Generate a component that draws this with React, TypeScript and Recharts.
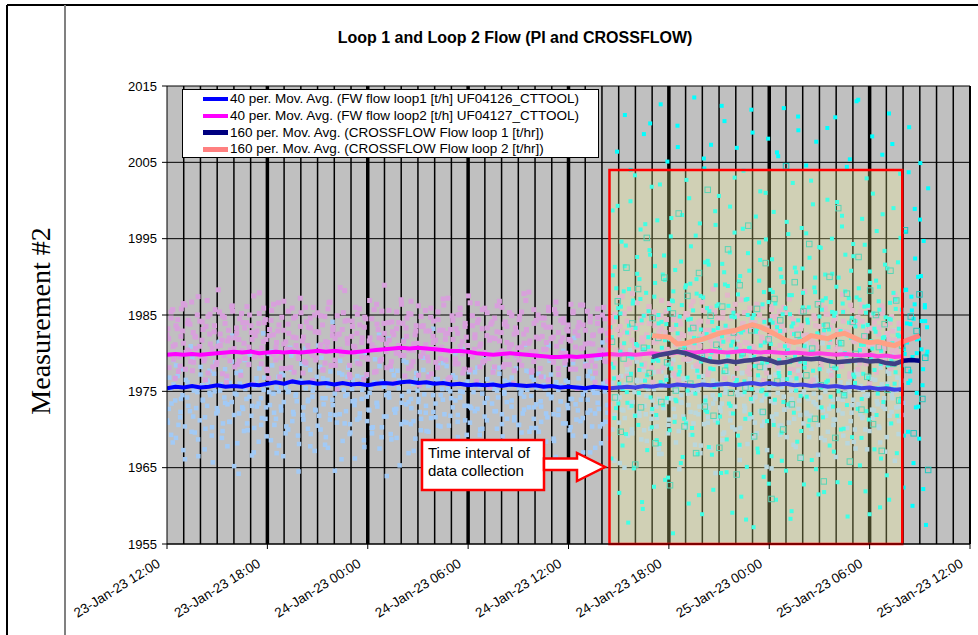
import React from 'react';
import { ComposedChart, Scatter, Line, XAxis, YAxis, CartesianGrid, ReferenceLine, ReferenceArea, Legend } from 'recharts';

const FONT = '"Liberation Sans", Arial, sans-serif';

// x values are hours after 23-Jan-23 12:00
const xTicks = [0, 6, 12, 18, 24, 30, 36, 42, 48];
const xTickLabels = [
  '23-Jan-23 12:00', '23-Jan-23 18:00', '24-Jan-23 00:00', '24-Jan-23 06:00', '24-Jan-23 12:00',
  '24-Jan-23 18:00', '25-Jan-23 00:00', '25-Jan-23 06:00', '25-Jan-23 12:00',
];
const yTicks = [1955, 1965, 1975, 1985, 1995, 2005, 2015];
const gridHours = [
  1, 2, 3, 4, 5, 6, 7, 8, 9, 10, 11, 12, 13, 14, 15, 16, 17, 18, 19, 20, 21, 22, 23, 24,
  25, 26, 27, 28, 29, 30, 31, 32, 33, 34, 35, 36, 37, 38, 39, 40, 41, 42, 43, 44, 45, 46, 47, 48,
];

// time interval of data collection (red box)
const collectionStart = 26.45;
const collectionEnd = 43.95;
const collectionTop = 2004;

// raw PI samples, loop 1 (hours 0 .. 44)
const loop1Raw = [
  1971.2, 1976.8, 1973.4, 1979.1, 1968.9, 1975.6, 1972.3, 1977.9, 1970.4, 1974.2, 1980.3, 1969.7, 1975.1, 1972.8, 1966.5,
  1978.2, 1973.9, 1971.6, 1976.4, 1974.8, 1969.2, 1977.3, 1972.1, 1981.4, 1975.9, 1970.8, 1973.5, 1967.8, 1976.1, 1978.9,
  1971.9, 1974.6, 1964.2, 1977.6, 1972.7, 1975.3, 1969.9, 1979.8, 1973.1, 1970.2, 1976.7, 1968.4, 1974.1, 1982.6, 1971.4,
  1975.8, 1973.2, 1978.4, 1970.6, 1966.9, 1975.0, 1972.5, 1977.1, 1969.5, 1974.9, 1980.7, 1971.1, 1976.2, 1973.7, 1968.1,
  1978.6, 1972.9, 1975.4, 1970.1, 1977.8, 1974.3, 1967.2, 1976.9, 1971.8, 1979.4, 1973.3, 1969.0, 1975.7, 1972.0, 1984.1,
  1974.7, 1970.9, 1977.4, 1966.1, 1975.2, 1972.4, 1978.1, 1969.6, 1976.5, 1973.8, 1971.3, 1980.1, 1974.0, 1968.6, 1977.0,
  1972.6, 1975.5, 1970.3, 1979.2, 1973.0, 1967.5, 1976.3, 1971.7, 1974.5, 1981.9, 1969.4, 1975.9, 1972.2, 1977.7, 1965.3,
  1974.4, 1971.0, 1978.8, 1973.6, 1970.7, 1976.0, 1968.8, 1975.1, 1972.3, 1979.6, 1974.6, 1969.8, 1977.2, 1971.5, 1983.2,
  1973.4, 1976.6, 1967.9, 1975.3, 1972.0, 1978.3, 1970.5, 1974.1, 1966.7, 1976.8, 1971.9, 1975.0, 1980.5, 1973.1, 1969.3,
  1977.5, 1972.8, 1974.9, 1968.3, 1976.1, 1970.0, 1978.7, 1973.5, 1971.2, 1975.6, 1963.8, 1977.9, 1972.4, 1974.2, 1979.9,
  1969.1, 1976.4, 1971.4, 1975.8, 1973.0, 1967.4, 1978.0, 1970.6, 1974.7, 1972.1, 1981.1, 1975.2, 1969.7, 1976.9, 1972.9,
  1970.2, 1977.3, 1973.7, 1966.3, 1975.4, 1971.6, 1979.0, 1974.3, 1968.5, 1976.2, 1972.6, 1975.7, 1970.8, 1978.5, 1973.2,
  1969.9, 1974.0, 1982.0, 1971.3, 1976.7, 1973.9, 1967.0, 1975.1, 1972.2, 1977.6, 1970.4, 1974.8, 1979.3, 1972.7, 1968.2,
  1976.0, 1971.0, 1975.5, 1973.3, 1978.2, 1965.9, 1974.4, 1970.9, 1977.0, 1972.5, 1975.9, 1969.2, 1980.4, 1973.6, 1971.8,
  1976.3, 1974.6, 1968.7, 1977.8, 1972.0, 1975.3, 1970.1, 1973.8, 1979.7, 1971.5, 1966.8, 1975.6, 1972.9, 1978.4, 1969.5,
  1974.1, 1977.1, 1971.7, 1975.0, 1964.8, 1973.5, 1976.6, 1970.3, 1979.0, 1972.3, 1974.9, 1968.0, 1977.5, 1973.0, 1981.6,
  1970.7, 1975.7, 1972.8, 1967.6, 1976.4, 1974.0, 1971.2, 1978.6, 1973.4, 1969.6, 1975.2, 1982.9, 1972.1, 1976.9, 1970.0,
  1974.5, 1966.0, 1977.4, 1973.1, 1975.9, 1971.4, 1979.5, 1968.9, 1974.3, 1976.1, 1972.4, 1970.5, 1978.0, 1965.1, 1975.4,
  1973.7, 1971.1, 1977.2, 1974.8, 1969.3, 1976.5, 1972.6, 1980.8, 1970.9, 1975.1, 1973.2, 1967.7, 1977.7, 1971.9, 1974.6,
  1978.9, 1972.0, 1969.0, 1975.8, 1973.6, 1976.8, 1970.6, 1974.2, 1981.3, 1968.6, 1975.5, 1972.7, 1977.0, 1971.3, 1966.4,
  1974.0, 1976.2, 1973.9, 1979.3, 1970.2, 1975.0, 1972.2, 1968.4, 1977.6, 1973.3, 1975.7, 1971.6, 1983.7, 1974.4, 1969.8,
  1976.6, 1972.5, 1975.3, 1970.4, 1978.1, 1973.0, 1967.1, 1976.0, 1971.8, 1974.7, 1979.8, 1972.9, 1969.4, 1975.9, 1973.5,
];
const loop1RawB = [
  1972.7, 1969.3, 1975.9, 1978.4, 1970.6, 1974.0, 1967.3, 1976.5, 1973.1, 1980.9, 1971.7, 1975.3, 1968.7, 1977.2, 1973.8,
  1970.1, 1976.2, 1974.5, 1965.7, 1978.8, 1972.4, 1975.1, 1969.8, 1977.9, 1973.3, 1971.0, 1982.3, 1974.7, 1968.2, 1976.0,
  1972.9, 1979.1, 1970.8, 1974.3, 1966.6, 1975.7, 1973.0, 1978.0, 1971.5, 1976.8, 1969.1, 1974.9, 1980.2, 1972.2, 1975.5,
  1967.9, 1977.3, 1973.6, 1970.4, 1975.0, 1979.7, 1972.0, 1974.6, 1964.5, 1976.3, 1971.3, 1978.5, 1973.9, 1969.4, 1975.8,
  1972.5, 1981.0, 1970.0, 1976.7, 1974.1, 1967.6, 1977.6, 1973.2, 1971.9, 1975.4, 1979.0, 1968.5, 1974.4, 1976.9, 1970.7,
  1973.7, 1966.2, 1977.0, 1972.1, 1975.2, 1980.0, 1971.1, 1974.8, 1969.5, 1976.1, 1973.4, 1978.3, 1970.3, 1975.6, 1963.9,
  1974.2, 1977.8, 1972.6, 1968.9, 1976.4, 1973.5, 1981.7, 1970.9, 1975.0, 1972.8, 1967.2, 1977.4, 1974.0, 1971.4, 1979.4,
  1973.1, 1969.7, 1975.9, 1972.3, 1976.6, 1970.5, 1974.5, 1978.7, 1966.8, 1975.3, 1971.8, 1977.1, 1973.8, 1969.0, 1980.6,
  1974.9, 1971.2, 1976.3, 1973.0, 1968.1, 1977.5, 1972.7, 1975.7, 1970.1, 1979.2, 1974.1, 1965.4, 1976.0, 1972.4, 1975.1,
  1978.1, 1970.7, 1974.7, 1973.6, 1967.7, 1976.8, 1971.6, 1982.8, 1975.4, 1969.6, 1974.3, 1977.7, 1972.9, 1970.2, 1976.5,
  1973.3, 1979.6, 1971.0, 1975.8, 1968.4, 1974.6, 1977.2, 1972.0, 1966.4, 1975.2, 1973.7, 1980.3, 1970.8, 1976.2, 1974.0,
  1969.2, 1977.9, 1972.5, 1975.5, 1971.5, 1978.6, 1973.9, 1967.0, 1976.7, 1972.1, 1974.8, 1970.4, 1981.4, 1975.0, 1973.2,
  1968.8, 1976.1, 1971.9, 1979.8, 1974.2, 1972.6, 1965.0, 1977.3, 1973.5, 1970.0, 1975.6, 1978.9, 1972.3, 1976.4, 1969.9,
  1974.4, 1980.7, 1971.4, 1975.3, 1973.0, 1967.5, 1977.6, 1972.8, 1976.9, 1970.6, 1974.1, 1979.1, 1968.3, 1975.9, 1973.6,
  1971.7, 1976.6, 1974.7, 1969.3, 1978.2, 1972.2, 1975.1, 1966.9, 1977.0, 1973.4, 1970.9, 1982.1, 1974.5, 1971.2, 1976.0,
  1972.9, 1968.6, 1975.7, 1979.5, 1973.1, 1970.3, 1976.3, 1974.9, 1967.8, 1977.4, 1972.4, 1975.4, 1980.1, 1971.6, 1974.2,
  1969.5, 1976.8, 1973.8, 1971.0, 1978.4, 1974.6, 1964.9, 1975.8, 1972.0, 1977.8, 1970.5, 1974.3, 1979.9, 1973.0, 1976.5,
  1968.0, 1975.2, 1972.7, 1977.1, 1970.8, 1981.2, 1974.0, 1971.8, 1976.2, 1973.3, 1966.7, 1978.0, 1972.5, 1975.0, 1969.7,
  1977.5, 1973.9, 1971.3, 1975.6, 1980.4, 1972.1, 1974.8, 1968.2, 1976.7, 1973.2, 1970.0, 1978.8, 1975.3, 1971.5, 1974.4,
  1967.4, 1976.9, 1972.6, 1979.3, 1973.7, 1970.2, 1975.9, 1974.1, 1969.0, 1977.3, 1972.3, 1983.0, 1975.1, 1971.1, 1976.4,
];
const loop1RawC = [
  1970.9, 1975.4, 1968.3, 1973.8, 1977.0, 1971.6, 1974.5, 1966.1, 1976.2, 1972.4, 1979.3, 1969.6, 1974.9, 1971.2, 1975.8,
  1967.4, 1973.1, 1977.7, 1970.3, 1975.0, 1972.8, 1981.5, 1968.9, 1974.2, 1976.6, 1971.0, 1973.6, 1965.2, 1977.4, 1972.1,
  1975.7, 1969.8, 1974.0, 1978.6, 1971.8, 1967.0, 1976.0, 1973.4, 1970.6, 1975.2, 1972.9, 1979.9, 1968.6, 1974.7, 1971.4,
  1976.9, 1973.0, 1966.5, 1975.5, 1970.0, 1977.9, 1972.3, 1974.4, 1969.2, 1976.4, 1971.9, 1980.6, 1973.7, 1967.8, 1975.1,
  1972.6, 1970.5, 1978.2, 1974.1, 1968.0, 1976.5, 1971.3, 1973.9, 1964.6, 1975.9, 1972.0, 1977.2, 1970.8, 1974.6, 1969.4,
  1975.3, 1973.2, 1978.9, 1971.5, 1976.8, 1967.7, 1974.3, 1972.5, 1970.2, 1976.1, 1973.5, 1982.4, 1969.0, 1975.6, 1971.7,
  1974.8, 1968.7, 1977.1, 1972.7, 1975.4, 1970.7, 1979.0, 1973.3, 1966.9, 1974.0, 1971.1, 1976.7, 1973.6, 1969.9, 1977.8,
  1972.2, 1975.7, 1965.8, 1974.5, 1971.6, 1978.4, 1970.4, 1973.9, 1976.3, 1968.4, 1975.0, 1972.9, 1980.0, 1971.0, 1974.2,
  1967.2, 1976.0, 1973.1, 1970.9, 1975.8, 1972.4, 1978.1, 1969.3, 1974.7, 1971.7, 1976.6, 1963.5, 1973.4, 1975.3, 1970.1,
  1977.3, 1972.0, 1974.9, 1968.2, 1976.2, 1973.8, 1971.2, 1979.6, 1970.6, 1975.1, 1972.6, 1967.1, 1977.6, 1974.4, 1971.4,
  1975.5, 1969.7, 1973.0, 1976.9, 1972.1, 1981.0, 1974.1, 1968.8, 1975.9, 1971.9, 1973.7, 1966.0, 1976.4, 1972.8, 1970.3,
  1978.7, 1973.3, 1975.6, 1971.1, 1974.6, 1969.1, 1977.0, 1972.5, 1975.2, 1967.6, 1973.5, 1979.4, 1970.7, 1976.1, 1972.2,
  1974.3, 1970.0, 1976.8, 1973.9, 1965.6, 1975.4, 1971.5, 1978.0, 1972.9, 1969.5, 1974.9, 1976.5, 1971.8, 1980.3, 1973.1,
  1968.5, 1975.7, 1972.3, 1977.5, 1970.4, 1974.0, 1966.8, 1976.0, 1973.6, 1971.3, 1978.5, 1972.7, 1975.0, 1969.8, 1974.5,
  1976.7, 1971.0, 1973.2, 1979.2, 1970.8, 1975.3, 1972.0, 1967.9, 1976.3, 1974.2, 1971.6, 1977.9, 1973.4, 1964.3, 1975.8,
  1972.4, 1969.4, 1974.8, 1977.4, 1971.2, 1975.9, 1973.0, 1981.8, 1970.2, 1974.6, 1972.8, 1968.1, 1976.6, 1973.7, 1970.9,
  1975.1, 1979.7, 1972.1, 1974.3, 1967.3, 1976.9, 1971.7, 1973.5, 1978.3, 1970.5, 1975.6, 1972.6, 1969.0, 1977.1, 1974.0,
  1971.4, 1976.2, 1973.8, 1966.3, 1975.0, 1972.2, 1980.8, 1970.1, 1974.7, 1976.4, 1972.9, 1968.9, 1975.4, 1971.8, 1977.7,
  1973.1, 1970.6, 1975.7, 1972.5, 1978.8, 1969.2, 1974.4, 1976.0, 1971.1, 1973.9, 1967.5, 1977.2, 1972.0, 1975.2, 1970.0,
  1974.6, 1979.0, 1971.5, 1976.5, 1973.3, 1968.3, 1975.5, 1972.7, 1977.6, 1970.7, 1974.1, 1965.9, 1976.8, 1973.0, 1971.9,
];

// raw PI samples, loop 2 (hours 0 .. 44)
const loop2Raw = [
  1982.4, 1978.1, 1984.6, 1980.9, 1976.7, 1983.2, 1979.5, 1985.8, 1981.3, 1977.9, 1983.9, 1980.2, 1986.7, 1978.8, 1982.1,
  1975.6, 1984.2, 1981.7, 1979.0, 1983.5, 1977.4, 1985.1, 1980.6, 1982.8, 1978.5, 1988.3, 1981.0, 1984.9, 1979.7, 1976.2,
  1983.0, 1980.4, 1985.5, 1978.2, 1982.6, 1981.8, 1977.1, 1984.0, 1979.3, 1986.1, 1980.8, 1983.6, 1975.9, 1982.3, 1979.9,
  1985.2, 1978.6, 1981.5, 1984.4, 1977.7, 1983.1, 1980.0, 1986.4, 1979.1, 1982.9, 1976.9, 1984.7, 1981.2, 1978.0, 1983.8,
  1980.5, 1985.9, 1977.5, 1982.0, 1979.6, 1987.2, 1981.6, 1978.9, 1984.1, 1980.3, 1983.3, 1976.4, 1985.0, 1979.4, 1982.7,
  1981.1, 1977.8, 1984.8, 1980.7, 1986.6, 1978.4, 1983.4, 1981.9, 1975.3, 1982.5, 1979.8, 1985.3, 1980.1, 1984.3, 1977.2,
  1982.2, 1980.9, 1986.0, 1978.7, 1983.7, 1981.4, 1976.6, 1984.5, 1979.2, 1982.0, 1980.6, 1985.7, 1977.6, 1983.1, 1979.0,
  1981.8, 1988.9, 1980.2, 1984.0, 1978.3, 1982.8, 1976.1, 1985.4, 1981.0, 1979.7, 1983.9, 1977.0, 1984.6, 1980.4, 1986.8,
  1978.9, 1982.4, 1981.3, 1975.8, 1983.5, 1980.0, 1985.6, 1979.5, 1982.9, 1977.3, 1984.2, 1981.7, 1978.1, 1983.0, 1980.8,
  1986.3, 1979.1, 1982.6, 1976.8, 1984.9, 1980.3, 1983.2, 1978.6, 1985.1, 1981.5, 1977.9, 1982.1, 1987.5, 1979.8, 1983.6,
  1980.5, 1976.3, 1984.4, 1981.2, 1978.8, 1985.9, 1982.3, 1979.3, 1983.8, 1977.5, 1981.9, 1986.2, 1980.1, 1982.7, 1978.2,
  1984.1, 1979.6, 1985.3, 1981.1, 1976.0, 1983.3, 1980.7, 1984.8, 1978.4, 1982.5, 1986.9, 1979.9, 1981.6, 1977.7, 1983.9,
  1980.2, 1985.0, 1978.0, 1982.2, 1984.6, 1981.4, 1976.5, 1983.4, 1979.4, 1985.7, 1980.9, 1977.2, 1984.3, 1982.0, 1978.7,
  1983.1, 1981.8, 1986.4, 1979.2, 1982.8, 1975.4, 1984.0, 1980.6, 1983.7, 1978.3, 1985.5, 1981.3, 1979.0, 1982.4, 1977.4,
  1984.7, 1980.0, 1983.0, 1986.0, 1978.9, 1981.7, 1982.9, 1979.7, 1984.2, 1980.4, 1976.8, 1983.5, 1981.0, 1985.2, 1978.5,
  1982.6, 1979.5, 1987.8, 1980.8, 1983.2, 1977.8, 1984.5, 1981.5, 1978.6, 1982.1, 1985.8, 1980.3, 1976.2, 1983.6, 1979.1,
  1981.9, 1984.9, 1978.1, 1982.7, 1980.5, 1986.5, 1979.8, 1983.3, 1977.0, 1981.2, 1984.4, 1980.0, 1982.3, 1975.9, 1985.1,
  1979.3, 1983.8, 1981.6, 1978.4, 1984.0, 1980.9, 1986.7, 1982.5, 1979.6, 1977.6, 1983.0, 1981.1, 1985.4, 1978.8, 1982.0,
  1980.2, 1984.6, 1976.7, 1983.4, 1981.8, 1979.0, 1985.6, 1982.8, 1978.0, 1980.7, 1987.0, 1983.9, 1979.4, 1981.3, 1977.3,
  1984.3, 1980.4, 1982.9, 1978.7, 1985.0, 1981.5, 1976.4, 1983.1, 1979.9, 1982.2, 1986.1, 1980.1, 1984.8, 1978.2, 1981.0,
  1983.7, 1979.2, 1985.3, 1980.6, 1977.9, 1982.6, 1984.1, 1981.7, 1978.5, 1983.2, 1980.3, 1988.1, 1982.4, 1979.7, 1976.1,
  1981.4, 1984.5, 1980.8, 1983.5, 1978.9, 1982.1, 1985.9, 1979.5, 1981.9, 1977.1, 1984.2, 1980.5, 1983.0, 1981.2, 1978.3,
  1985.5, 1980.0, 1982.7, 1976.9, 1983.8, 1981.6, 1979.1, 1984.7, 1980.2, 1986.3, 1982.3, 1978.6, 1981.1, 1983.3, 1979.8,
  1984.0, 1977.5, 1982.5, 1980.7, 1985.2, 1979.3, 1983.6, 1981.8, 1978.0, 1982.9, 1986.8, 1980.4, 1983.9, 1979.6, 1981.5,
];
const loop2RawB = [
  1981.9, 1985.4, 1979.2, 1983.6, 1977.6, 1982.2, 1986.5, 1980.1, 1984.3, 1978.9, 1982.7, 1980.6, 1987.4, 1979.6, 1983.1,
  1976.5, 1984.8, 1981.2, 1978.2, 1985.7, 1980.9, 1982.5, 1977.3, 1983.9, 1981.6, 1979.0, 1986.2, 1982.0, 1978.5, 1984.5,
  1980.3, 1983.3, 1975.7, 1985.0, 1981.8, 1979.5, 1982.9, 1987.9, 1980.7, 1984.0, 1977.9, 1982.3, 1985.6, 1979.8, 1981.4,
  1983.7, 1978.0, 1986.8, 1980.5, 1982.6, 1976.3, 1984.6, 1981.0, 1979.3, 1985.3, 1982.1, 1978.7, 1983.4, 1980.0, 1986.0,
  1979.1, 1982.8, 1984.9, 1977.8, 1981.5, 1985.8, 1980.2, 1983.0, 1978.4, 1982.4, 1988.6, 1979.9, 1984.2, 1981.3, 1976.8,
  1983.5, 1980.8, 1985.1, 1978.6, 1982.0, 1984.7, 1979.4, 1986.9, 1981.1, 1977.5, 1983.8, 1980.4, 1985.5, 1982.6, 1978.1,
  1981.7, 1984.1, 1976.0, 1983.2, 1980.0, 1986.4, 1979.7, 1982.2, 1985.2, 1978.3, 1981.2, 1983.6, 1977.1, 1984.8, 1980.6,
  1982.9, 1979.0, 1985.9, 1981.4, 1978.8, 1984.4, 1980.3, 1987.1, 1982.5, 1976.6, 1983.1, 1981.8, 1979.2, 1985.0, 1980.9,
  1977.4, 1983.9, 1981.0, 1986.6, 1979.5, 1982.4, 1984.0, 1978.2, 1985.7, 1980.1, 1983.3, 1975.6, 1982.0, 1984.6, 1979.9,
  1981.6, 1986.0, 1978.5, 1983.5, 1980.7, 1984.9, 1977.7, 1982.7, 1979.1, 1985.4, 1981.3, 1983.0, 1988.0, 1980.2, 1978.9,
  1984.3, 1981.9, 1976.9, 1983.7, 1980.5, 1985.6, 1979.3, 1982.1, 1986.7, 1978.0, 1981.5, 1984.5, 1980.0, 1982.9, 1977.9,
  1985.3, 1980.8, 1983.4, 1979.6, 1986.3, 1981.2, 1978.4, 1984.1, 1982.3, 1976.2, 1983.9, 1980.4, 1985.0, 1979.0, 1982.6,
  1981.0, 1984.7, 1978.7, 1983.1, 1987.3, 1980.3, 1982.8, 1977.0, 1985.8, 1981.7, 1979.4, 1983.6, 1980.9, 1984.0, 1978.3,
  1982.4, 1986.1, 1979.8, 1981.4, 1984.8, 1977.6, 1983.2, 1980.1, 1985.5, 1982.0, 1978.6, 1984.4, 1981.1, 1976.4, 1983.8,
  1980.6, 1985.2, 1979.2, 1982.7, 1986.8, 1981.3, 1978.1, 1984.2, 1980.0, 1983.0, 1977.2, 1985.9, 1982.2, 1979.7, 1984.6,
  1981.8, 1978.8, 1983.3, 1987.6, 1980.4, 1982.5, 1976.7, 1984.9, 1981.0, 1979.1, 1985.3, 1982.9, 1978.2, 1983.5, 1980.7,
  1986.4, 1979.5, 1982.1, 1984.3, 1977.4, 1981.6, 1985.7, 1980.2, 1983.9, 1978.9, 1982.8, 1986.0, 1979.0, 1981.2, 1984.7,
  1977.8, 1983.1, 1980.5, 1985.4, 1982.3, 1978.5, 1984.0, 1981.9, 1976.5, 1983.6, 1980.0, 1986.6, 1982.0, 1979.3, 1985.1,
  1981.4, 1978.0, 1984.5, 1980.8, 1983.0, 1987.7, 1979.6, 1982.6, 1977.3, 1985.6, 1981.5, 1983.8, 1978.7, 1984.2, 1980.3,
  1982.9, 1976.0, 1985.0, 1981.1, 1979.4, 1983.4, 1986.2, 1980.6, 1982.4, 1978.4, 1984.8, 1981.7, 1979.8, 1983.2, 1985.5,
];
const loop2RawC = [
  1983.2, 1979.8, 1985.7, 1981.1, 1984.4, 1978.3, 1982.9, 1986.3, 1980.4, 1983.8, 1977.7, 1982.2, 1985.0, 1980.9, 1984.1,
  1979.3, 1986.9, 1982.5, 1980.0, 1983.6, 1978.8, 1985.4, 1981.7, 1984.7, 1977.0, 1982.0, 1986.1, 1980.6, 1983.3, 1979.0,
  1985.2, 1981.3, 1984.0, 1978.5, 1982.7, 1987.5, 1980.2, 1983.9, 1979.6, 1985.9, 1981.8, 1976.7, 1984.3, 1982.4, 1980.7,
  1986.6, 1979.4, 1983.0, 1981.5, 1985.5, 1978.1, 1982.1, 1984.8, 1980.3, 1983.5, 1977.4, 1986.0, 1981.0, 1984.6, 1979.7,
  1982.8, 1985.3, 1980.8, 1983.7, 1978.7, 1981.4, 1986.7, 1982.3, 1979.1, 1984.9, 1980.5, 1983.1, 1988.2, 1981.9, 1978.4,
  1984.2, 1980.1, 1982.6, 1985.8, 1979.5, 1983.4, 1977.2, 1981.6, 1984.5, 1980.7, 1986.4, 1982.0, 1979.2, 1983.9, 1981.2,
  1985.6, 1978.9, 1982.4, 1980.0, 1984.0, 1987.0, 1981.5, 1983.3, 1978.0, 1985.1, 1980.4, 1982.9, 1986.2, 1979.6, 1983.6,
  1981.1, 1976.9, 1984.7, 1982.2, 1980.6, 1985.4, 1979.3, 1983.0, 1981.8, 1987.2, 1980.2, 1984.3, 1978.6, 1982.6, 1985.9,
  1979.9, 1983.5, 1981.0, 1977.8, 1984.9, 1982.0, 1986.5, 1980.9, 1983.2, 1979.0, 1985.3, 1981.7, 1984.1, 1978.2, 1982.8,
  1986.8, 1980.3, 1983.8, 1981.4, 1978.5, 1985.0, 1982.5, 1979.7, 1984.4, 1980.8, 1987.8, 1983.1, 1981.3, 1977.5, 1985.7,
  1982.1, 1979.4, 1984.6, 1980.5, 1983.4, 1986.0, 1981.9, 1978.8, 1985.2, 1982.7, 1980.0, 1984.0, 1979.1, 1983.7, 1981.6,
  1985.5, 1977.9, 1982.3, 1986.3, 1980.7, 1983.0, 1979.5, 1984.8, 1981.2, 1978.3, 1985.8, 1982.9, 1980.4, 1984.5, 1976.3,
  1983.6, 1981.8, 1985.1, 1979.8, 1982.4, 1987.4, 1980.1, 1984.2, 1978.7, 1983.3, 1981.0, 1986.6, 1979.4, 1982.0, 1984.9,
  1980.6, 1983.9, 1978.1, 1985.4, 1981.5, 1982.8, 1986.9, 1979.9, 1984.4, 1980.3, 1983.1, 1977.3, 1985.0, 1981.9, 1982.5,
  1979.2, 1984.7, 1981.1, 1986.2, 1980.8, 1983.5, 1978.6, 1982.2, 1985.6, 1980.0, 1984.1, 1981.7, 1988.4, 1979.6, 1983.2,
  1981.3, 1985.3, 1978.9, 1982.6, 1984.6, 1980.2, 1986.4, 1982.1, 1979.0, 1983.8, 1981.4, 1977.6, 1985.9, 1980.9, 1984.0,
  1982.7, 1979.3, 1986.1, 1981.6, 1983.3, 1978.4, 1984.8, 1980.5, 1982.9, 1985.5, 1979.8, 1983.0, 1981.0, 1987.1, 1980.1,
  1984.3, 1981.8, 1977.1, 1983.6, 1980.4, 1985.7, 1982.0, 1979.5, 1984.9, 1981.2, 1986.7, 1978.2, 1982.4, 1985.1, 1980.7,
  1983.4, 1979.1, 1985.2, 1981.5, 1978.7, 1984.2, 1982.8, 1980.0, 1986.3, 1981.9, 1983.7, 1977.9, 1985.4, 1980.6, 1982.3,
  1986.0, 1980.9, 1983.2, 1979.3, 1984.6, 1981.1, 1985.8, 1978.6, 1982.6, 1984.0, 1980.3, 1987.6, 1981.7, 1983.9, 1979.7,
];

// raw CROSSFLOW samples, loop 1 (hours 26.5 .. 45.5)
const cross1Raw = [
  1983.4, 1966.2, 1998.7, 1978.1, 1991.3, 1972.8, 2006.4, 1985.9, 1961.7, 1980.2, 1994.6, 1975.3, 1988.1, 2011.2, 1969.4,
  1982.7, 1957.8, 1979.6, 1999.9, 1973.1, 1986.5, 1964.9, 2003.3, 1981.2, 1990.4, 1970.6, 1977.8, 1996.2, 1984.3, 1959.6,
  2008.7, 1976.4, 1987.9, 1967.3, 1982.1, 1993.5, 1974.2, 2001.8, 1979.0, 1962.5, 1989.2, 1971.9, 1997.4, 1985.0, 1968.1,
  2012.6, 1980.7, 1975.9, 1992.8, 1963.4, 1983.8, 2005.1, 1978.5, 1969.9, 1995.3, 1986.9, 1956.4, 1981.6, 1990.9, 1973.7,
  2009.8, 1977.2, 1984.8, 1965.6, 1998.1, 1980.0, 1971.4, 1988.6, 2002.7, 1976.8, 1960.3, 1983.1, 1994.0, 1970.2, 1985.6,
  2013.5, 1974.7, 1989.7, 1966.8, 1981.9, 1997.0, 1978.9, 1958.9, 1987.3, 2004.2, 1972.5, 1982.5, 1992.1, 1967.7, 1979.3,
  2007.3, 1984.1, 1962.1, 1975.6, 1996.8, 1986.2, 1970.9, 2000.6, 1980.4, 1964.3, 1991.7, 1977.5, 2010.4, 1983.6, 1968.7,
  1988.8, 1973.4, 1999.2, 1981.0, 1959.1, 1985.3, 1995.8, 1976.1, 2006.9, 1969.2, 1982.9, 1990.1, 1961.2, 1979.8, 2003.9,
  1974.9, 1987.0, 1965.1, 1993.1, 1980.6, 1972.0, 2011.9, 1984.6, 1957.2, 1978.3, 1997.9, 1983.2, 1967.0, 1989.5, 2001.2,
  1975.0, 1986.4, 1963.8, 1981.4, 1994.9, 1971.1, 2008.1, 1979.1, 1988.3, 1966.5, 1984.0, 1998.5, 1973.9, 1960.8, 1982.3,
  2005.8, 1977.0, 1991.0, 1969.6, 1985.1, 2012.1, 1980.9, 1964.6, 1976.6, 1995.6, 1987.6, 1958.3, 1983.5, 2002.3, 1972.2,
  1979.5, 1990.6, 1968.4, 2009.2, 1981.7, 1974.4, 1996.4, 1986.0, 1962.8, 1978.7, 2004.6, 1984.4, 1970.5, 1992.5, 1980.1,
  1966.0, 1999.5, 1975.7, 1988.0, 2007.7, 1982.6, 1961.5, 1977.9, 1993.8, 1985.7, 1971.6, 1983.0, 1990.3, 1976.2, 2000.1,
  1980.8, 1967.9, 1986.7, 1995.0, 1973.0, 1984.9, 2010.9, 1978.0, 1963.1, 1989.9, 1981.5, 1970.0, 1998.0, 1985.4, 1974.6,
  1992.9, 1979.7, 1958.6, 1987.2, 2005.4, 1982.0, 1969.0, 1994.3, 1976.9, 1984.2, 2013.0, 1972.7, 1988.5, 1965.3, 1981.1,
  1997.6, 1977.3, 1986.1, 1961.9, 2002.9, 1983.7, 1971.3, 1990.7, 1979.2, 2008.4, 1985.2, 1967.4, 1982.8, 1996.0, 1975.4,
  1988.7, 1959.8, 1980.3, 2006.0, 1973.6, 1993.4, 1984.7, 1964.0, 1978.4, 2011.4, 1986.6, 1970.8, 1981.3, 1999.0, 1976.0,
  1985.8, 1966.9, 1991.9, 1982.2, 2003.5, 1974.1, 1988.2, 1962.4, 1979.9, 1995.9, 1983.9, 1969.7, 2009.6, 1977.6, 1987.4,
  1960.0, 1984.5, 1998.9, 1972.9, 1981.8, 1990.0, 1968.8, 2004.9, 1980.5, 1975.8, 1994.7, 1986.3, 1957.5, 1983.4, 2001.6,
];
const cross1RawB = [
  1978.6, 1990.2, 1971.5, 1984.7, 1999.3, 1976.0, 1986.1, 1967.9, 1981.3, 1994.1, 1973.5, 1988.4, 2004.0, 1979.4, 1965.0,
  1983.3, 1992.6, 1974.8, 1987.1, 1960.5, 1980.5, 1996.9, 1977.1, 1985.5, 2010.1, 1970.3, 1982.4, 1991.4, 1968.6, 1979.0,
  2002.1, 1984.1, 1973.2, 1989.6, 1976.5, 1963.7, 1981.8, 1997.7, 1986.8, 1971.0, 1983.7, 2007.0, 1978.2, 1992.0, 1966.4,
  1980.9, 1988.9, 1975.1, 2000.3, 1984.5, 1969.3, 1982.0, 1995.4, 1977.7, 1961.4, 1987.5, 1980.1, 2005.5, 1973.8, 1985.9,
  1991.6, 1978.0, 1966.7, 1983.0, 1998.6, 1975.9, 1986.4, 1971.7, 2012.4, 1981.5, 1989.0, 1964.4, 1979.7, 1993.2, 1984.8,
  1972.1, 2003.0, 1980.6, 1987.7, 1968.0, 1982.7, 1996.3, 1976.3, 1958.2, 1985.0, 1990.8, 1974.0, 2008.9, 1979.5, 1983.6,
  1967.5, 1994.5, 1981.0, 1975.2, 1988.0, 2001.0, 1978.8, 1962.9, 1984.3, 1992.3, 1970.6, 1986.5, 2006.3, 1977.4, 1982.9,
  1965.9, 1989.3, 1980.0, 1997.2, 1973.3, 1985.1, 1959.3, 1983.9, 1991.2, 1976.7, 2011.0, 1981.9, 1969.8, 1987.9, 1978.1,
  1995.7, 1984.0, 1971.2, 2002.6, 1980.2, 1988.6, 1964.8, 1982.4, 1993.9, 1975.5, 1986.9, 1961.8, 1979.1, 2009.5, 1983.1,
  1974.3, 1990.4, 1967.1, 1985.3, 1999.8, 1977.0, 1981.2, 1996.6, 1970.1, 1988.1, 2004.4, 1978.9, 1963.0, 1984.6, 1992.7,
  1976.1, 1987.3, 2013.2, 1980.4, 1968.9, 1983.5, 1994.2, 1972.4, 1986.2, 1958.9, 1981.6, 2000.9, 1977.8, 1989.5, 1974.7,
  1985.7, 1966.2, 1998.2, 1982.1, 1979.6, 1991.1, 1960.8, 1984.4, 2007.4, 1975.3, 1987.0, 1971.8, 1983.2, 1995.1, 1978.4,
  1969.2, 1988.3, 1981.4, 2003.7, 1976.4, 1985.6, 1965.6, 1992.4, 1980.0, 1973.0, 1997.5, 1984.2, 1962.2, 1986.0, 1979.8,
];
const cross1RawC = [
  1982.1, 1976.7, 1988.5, 1973.4, 1985.2, 1979.9, 1991.4, 1974.9, 1983.6, 1977.3, 1986.9, 1971.8, 1981.0, 1989.7, 1978.5,
  1984.9, 1975.6, 1980.8, 1992.9, 1972.7, 1987.4, 1979.2, 1983.9, 1976.2, 1990.3, 1981.7, 1974.1, 1985.8, 1978.0, 1988.1,
  1973.9, 1982.6, 1977.6, 1986.3, 1980.3, 1970.8, 1984.4, 1989.1, 1975.8, 1981.3, 1987.8, 1976.9, 1983.1, 1979.4, 1991.9,
  1972.3, 1985.5, 1980.1, 1977.9, 1988.9, 1983.3, 1974.5, 1982.2, 1990.6, 1978.3, 1986.2, 1973.1, 1981.5, 1984.7, 1976.5,
  1989.4, 1979.6, 1983.0, 1971.4, 1987.1, 1980.7, 1975.3, 1985.0, 1982.8, 1977.1, 1992.2, 1978.7, 1984.1, 1974.6, 1986.7,
  1981.2, 1988.0, 1976.0, 1983.4, 1979.1, 1990.0, 1973.6, 1985.9, 1980.4, 1977.4, 1987.6, 1982.5, 1975.1, 1984.3, 1978.9,
  1991.1, 1980.9, 1974.3, 1986.0, 1982.3, 1977.7, 1989.9, 1979.3, 1984.8, 1972.9, 1983.7, 1987.2, 1976.4, 1981.8, 1985.4,
  1978.1, 1988.7, 1975.0, 1982.9, 1986.5, 1980.0, 1973.2, 1984.0, 1990.8, 1977.2, 1983.5, 1979.7, 1987.0, 1974.0, 1981.1,
  1985.3, 1976.8, 1989.2, 1980.6, 1983.2, 1971.9, 1986.8, 1978.6, 1982.0, 1991.6, 1975.7, 1984.5, 1979.0, 1987.9, 1977.5,
  1982.4, 1973.7, 1985.7, 1980.5, 1988.3, 1976.1, 1983.8, 1979.5, 1986.4, 1974.8, 1981.9, 1990.1, 1977.9, 1984.2, 1980.2,
];

// raw CROSSFLOW samples, loop 2 (hours 26.6 .. 45.5)
const cross2Raw = [
  1981.5, 1974.2, 1986.8, 1969.7, 1979.3, 1991.2, 1976.6, 1983.9, 1965.4, 1988.4, 1972.9, 1980.7, 1995.1, 1977.4, 1984.6,
  1968.2, 1982.0, 1973.6, 1989.9, 1978.8, 1962.7, 1985.2, 1975.1, 1998.3, 1980.3, 1970.4, 1987.5, 1976.0, 1983.3, 1966.9,
  1990.5, 1979.6, 1973.0, 2001.4, 1984.9, 1971.8, 1981.1, 1967.6, 1986.1, 1977.7, 1993.6, 1974.8, 1982.7, 1964.1, 1988.9,
  1980.0, 1975.5, 1996.7, 1983.0, 1969.1, 1985.8, 1978.2, 1972.3, 1991.8, 1981.8, 1960.9, 1987.1, 1976.3, 1984.3, 1970.0,
  2004.5, 1979.0, 1973.3, 1989.3, 1982.4, 1966.3, 1985.5, 1977.1, 1994.3, 1980.6, 1971.4, 1986.4, 1975.8, 1963.2, 1983.6,
  1990.0, 1978.5, 1968.9, 1999.0, 1981.3, 1974.5, 1987.8, 1965.8, 1984.1, 1979.9, 1992.6, 1972.6, 1982.2, 1976.9, 1988.2,
  1970.7, 1985.0, 1980.8, 1967.2, 1983.8, 1975.2, 1990.8, 1978.6, 1986.9, 1973.8, 1981.0, 1996.1, 1977.8, 1984.8, 1969.5,
  1982.9, 1987.7, 1974.0, 1979.4, 1964.7,
];

// moving averages, one value every half hour
const loop1Avg = [
  1975.4, 1975.6, 1975.5, 1975.7, 1975.5, 1975.6, 1975.8, 1975.6, 1975.7, 1975.6, 1975.9, 1975.8, 1976.0, 1976.2, 1976.0,
  1976.3, 1976.1, 1976.2, 1976.0, 1976.1, 1975.9, 1976.1, 1975.9, 1976.0, 1975.8, 1976.0, 1976.1, 1976.0, 1976.2, 1976.3,
  1976.1, 1976.2, 1976.0, 1976.1, 1975.9, 1976.0, 1975.8, 1975.9, 1975.8, 1975.9, 1975.7, 1975.9, 1975.8, 1975.7, 1975.8,
  1975.6, 1975.7, 1975.5, 1975.6, 1975.5, 1975.4, 1975.6, 1975.5, 1975.4, 1975.5, 1975.6, 1975.5, 1975.7, 1975.6, 1975.8,
  1975.7, 1975.9, 1975.8, 1975.7, 1975.9, 1975.8, 1975.9, 1976.0, 1975.8, 1976.0, 1976.1, 1975.9, 1976.1, 1975.9, 1976.0,
  1975.8, 1975.9, 1975.7, 1975.8, 1975.6, 1975.7, 1975.5, 1975.6, 1975.4, 1975.5, 1975.3, 1975.4, 1975.2, 1975.3,
];
const loop2Avg = [
  1979.8, 1979.9, 1979.8, 1979.9, 1979.8, 1979.9, 1980.0, 1980.1, 1980.2, 1980.1, 1980.2, 1980.0, 1980.1, 1980.2, 1980.1,
  1980.2, 1980.1, 1980.2, 1980.3, 1980.2, 1980.3, 1980.2, 1980.1, 1980.2, 1980.3, 1980.4, 1980.5, 1980.6, 1980.7, 1980.6,
  1980.7, 1980.6, 1980.5, 1980.4, 1980.3, 1980.3, 1980.2, 1980.0, 1979.9, 1979.8, 1979.9, 1980.0, 1979.9, 1979.8, 1979.7,
  1979.6, 1979.5, 1979.5, 1979.6, 1979.5, 1979.6, 1979.7, 1979.8, 1979.9, 1979.8, 1979.9, 1979.8, 1979.9, 1980.0, 1979.9,
  1980.0, 1980.1, 1980.2, 1980.1, 1980.2, 1980.3, 1980.2, 1980.1, 1980.2, 1980.3, 1980.2, 1980.1, 1980.2, 1980.1, 1980.0,
  1980.1, 1980.0, 1979.9, 1980.0, 1979.9, 1979.8, 1979.9, 1979.8, 1979.7, 1979.8, 1979.6, 1979.7, 1979.5, 1979.6,
];
const cross1Avg = [
  1979.5, 1979.8, 1980.0, 1980.2, 1980.0, 1979.6, 1979.2, 1978.9, 1978.8, 1979.0, 1978.8, 1979.0, 1979.1, 1979.3, 1979.1,
  1978.7, 1978.8, 1979.1, 1979.3, 1979.2, 1979.3, 1979.0, 1978.8, 1978.9, 1979.0, 1979.1, 1978.9, 1979.0, 1978.7, 1978.6,
  1979.0, 1979.1, 1979.0,
];
const cross2Avg = [
  1982.3, 1982.2, 1982.1, 1981.2, 1981.3, 1981.6, 1981.8, 1982.2, 1982.6, 1982.8, 1983.0, 1983.4, 1983.7, 1983.4, 1982.9,
  1982.3, 1981.7, 1981.4, 1981.6, 1982.3, 1982.1, 1981.9, 1982.4, 1982.6, 1982.1, 1981.6, 1981.4, 1981.5, 1981.2, 1981.0,
  1981.5, 1981.9, 1982.3,
];

// samples are evenly spaced in time between the first and the last hour
const toPoints = (first: number, last: number, values: number[]) =>
  values.map((v, i) => ({ h: first + (i * (last - first)) / (values.length - 1), v }));

const avgSeries = [
  { name: '40 per. Mov. Avg. (FW flow loop1 [t/h] UF04126_CTTOOL)', color: '#0000FF', width: 4, data: toPoints(0, 44, loop1Avg) },
  { name: '40 per. Mov. Avg. (FW flow loop2 [t/h] UF04127_CTTOOL)', color: '#FF00FF', width: 4, data: toPoints(0, 44, loop2Avg) },
  { name: '160 per. Mov. Avg. (CROSSFLOW Flow loop 1 [t/hr])', color: '#000080', width: 4.5, data: toPoints(29, 45, cross1Avg) },
  { name: '160 per. Mov. Avg. (CROSSFLOW Flow loop 2 [t/hr])', color: '#FF8080', width: 5, data: toPoints(29, 45, cross2Avg) },
];

const loop1Points = [
  ...toPoints(0, 44, loop1Raw),
  ...toPoints(0.1, 43.9, loop1RawB),
  ...toPoints(0.05, 43.95, loop1RawC),
];
const loop2Points = [
  ...toPoints(0, 44, loop2Raw),
  ...toPoints(0.1, 43.9, loop2RawB),
  ...toPoints(0.05, 43.95, loop2RawC),
];
const cross1Points = [
  ...toPoints(26.5, 45.5, cross1Raw),
  ...toPoints(26.55, 45.4, cross1RawB),
  ...toPoints(26.6, 45.45, cross1RawC),
];
const cross2Points = toPoints(26.6, 45.5, cross2Raw);

const square = (size: number, color: string, hollow = false) => (p: any) => {
  if (p.cx == null || p.cy == null) return <g />;
  return hollow ? (
    <rect x={p.cx - size / 2} y={p.cy - size / 2} width={size} height={size} fill="none" stroke={color} strokeWidth={1} />
  ) : (
    <rect x={p.cx - size / 2} y={p.cy - size / 2} width={size} height={size} fill={color} />
  );
};

const DateTick = (props: any) => {
  const { x, y, payload } = props;
  const label = xTickLabels[xTicks.indexOf(payload.value)];
  return (
    <g transform={`translate(${x - 6},${y + 15}) rotate(-32)`}>
      <text textAnchor="end" fontSize={13.5} fontFamily={FONT} fill="#000">{label}</text>
    </g>
  );
};

const LegendBox = (props: any) => {
  const payload = props.payload || [];
  return (
    <div style={{ width: 417, height: 69, boxSizing: 'border-box', border: '1px solid #000', background: '#fff', padding: '1px 0 0 20px', fontFamily: FONT }}>
      {avgSeries.map((s) => {
        const entry = payload.find((e: any) => e.value === s.name);
        return (
          <div key={s.name} style={{ display: 'flex', alignItems: 'center', height: 16.7 }}>
            <span style={{ display: 'inline-block', width: 25, height: s.width, background: entry ? entry.color : s.color }} />
            <span style={{ marginLeft: 2, fontSize: 13.5, color: '#000', whiteSpace: 'nowrap', lineHeight: '16px' }}>{s.name}</span>
          </div>
        );
      })}
    </div>
  );
};

export default function App() {
  return (
    <div style={{ position: 'absolute', left: 0, top: 0, width: 978, height: 635, background: '#fff', overflow: 'hidden' }}>
      <div style={{ position: 'absolute', left: 0, top: 0 }}>
        <ComposedChart width={978} height={635} margin={{ top: 86, right: 8, bottom: 0, left: 0 }}>
          <CartesianGrid vertical={false} stroke="#000" strokeWidth={1} fill="#C0C0C0" fillOpacity={1} />
          <XAxis
            type="number"
            dataKey="h"
            domain={[0, 48]}
            ticks={xTicks}
            interval={0}
            tick={<DateTick />}
            tickSize={5}
            height={91}
            axisLine={{ stroke: '#000' }}
            tickLine={{ stroke: '#000' }}
            allowDataOverflow
          />
          <YAxis
            type="number"
            dataKey="v"
            domain={[1955, 2015]}
            ticks={yTicks}
            interval={0}
            width={167}
            tickSize={5}
            tickMargin={5}
            tick={{ fontSize: 13, fill: '#000', fontFamily: FONT }}
            axisLine={{ stroke: '#000' }}
            tickLine={{ stroke: '#000' }}
            allowDataOverflow
          />
          {gridHours.map((h) => (
            <ReferenceLine key={h} x={h} stroke="#000" strokeWidth={h === 48 ? 2 : h % 6 === 0 ? 3.5 : 1.5} zIndex={-50} />
          ))}
          <Scatter name="loop1 raw" data={loop1Points} shape={square(4.5, '#A2CAF6')} legendType="none" isAnimationActive={false} zIndex={300} />
          <Scatter name="loop2 raw" data={loop2Points} shape={square(5, '#D8A0DC')} legendType="none" isAnimationActive={false} zIndex={300} />
          <Scatter name="crossflow 1 raw" data={cross1Points} shape={square(4, '#00FFFF')} legendType="none" isAnimationActive={false} zIndex={300} />
          <Scatter name="crossflow 2 raw" data={cross2Points} shape={square(5.5, '#20C8C0', true)} legendType="none" isAnimationActive={false} zIndex={300} />
          {avgSeries.map((s) => (
            <Line
              key={s.name}
              name={s.name}
              data={s.data}
              dataKey="v"
              type="linear"
              stroke={s.color}
              strokeWidth={s.width}
              dot={false}
              activeDot={false}
              isAnimationActive={false}
              zIndex={400}
            />
          ))}
          <ReferenceArea
            x1={collectionStart}
            x2={collectionEnd}
            y1={1955}
            y2={collectionTop}
            fill="#FFFF94"
            fillOpacity={0.25}
            stroke="#FF0000"
            strokeWidth={2.5}
            zIndex={450}
          />
          <Legend
            layout="vertical"
            align="center"
            verticalAlign="middle"
            content={<LegendBox />}
            wrapperStyle={{ left: 182, top: 89, width: 417, height: 69 }}
          />
        </ComposedChart>
      </div>
      <svg width={978} height={635} style={{ position: 'absolute', left: 0, top: 0, pointerEvents: 'none' }}>
        <line x1={7} y1={5} x2={978} y2={5} stroke="#000" strokeWidth={2} />
        <line x1={7} y1={5} x2={7} y2={635} stroke="#000" strokeWidth={2} />
        <line x1={65} y1={5} x2={65} y2={635} stroke="#808080" strokeWidth={2} />
        <text transform="translate(50,321) rotate(-90)" textAnchor="middle" fontFamily='"Liberation Serif", "Times New Roman", serif' fontSize={28} fill="#000">
          Measurement #2
        </text>
        <text x={515} y={43} textAnchor="middle" fontFamily={FONT} fontWeight="bold" fontSize={16} fill="#000">
          Loop 1 and Loop 2 Flow (PI and CROSSFLOW)
        </text>
        <rect x={422} y={440} width={122} height={50} fill="#fff" stroke="#FF0000" strokeWidth={2.5} />
        <polygon points="544,458.5 577,458.5 577,453 605,467 577,481 577,470 544,470" fill="#fff" stroke="#FF0000" strokeWidth={2.5} />
        <text x={428} y={458} fontFamily={FONT} fontSize={15} fill="#000">Time interval of</text>
        <text x={428} y={476} fontFamily={FONT} fontSize={15} fill="#000">data collection</text>
      </svg>
    </div>
  );
}
